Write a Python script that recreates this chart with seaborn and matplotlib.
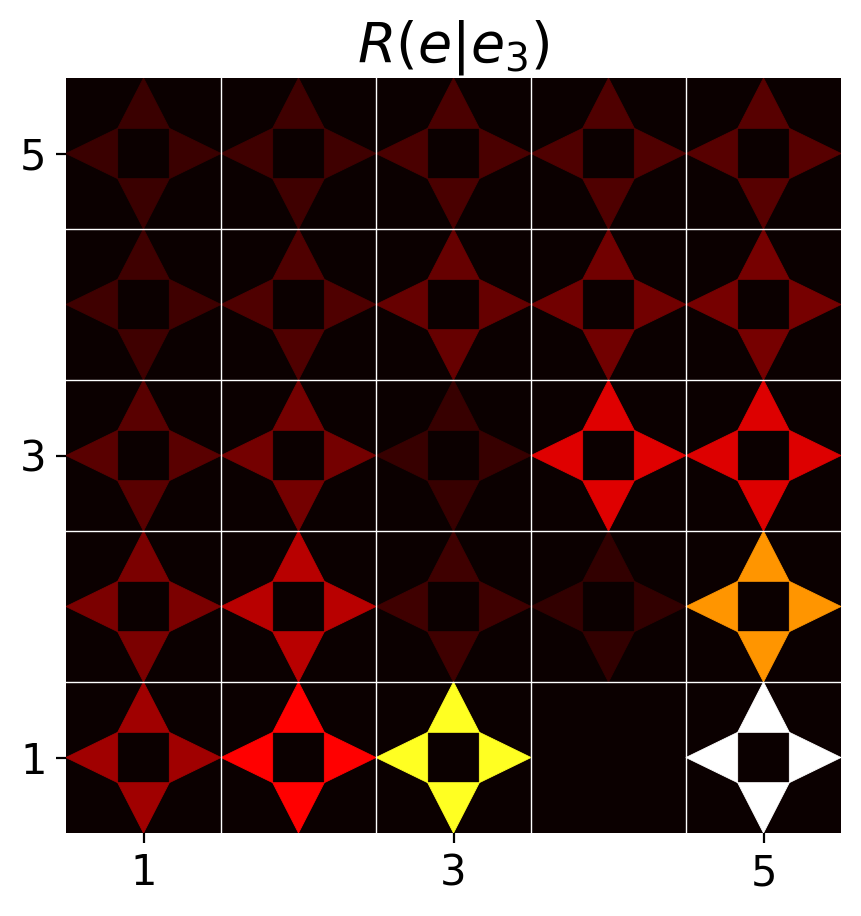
import numpy as np
import pandas as pd
import seaborn as sns
import matplotlib
matplotlib.use("Agg")
import matplotlib.pyplot as plt
from matplotlib.collections import PolyCollection

# grid coordinates (x = 1..5, y = 1..5)
x_labels = [1, 2, 3, 4, 5]
y_labels = [5, 4, 3, 2, 1]  # top to bottom

# value per cell (same for all four directions), rows listed top (y=5) to bottom (y=1)
row_y5 = [0.074, 0.080, 0.095, 0.104, 0.116]
row_y4 = [0.080, 0.104, 0.140, 0.154, 0.163]
row_y3 = [0.119, 0.157, 0.068, 0.319, 0.313]
row_y2 = [0.169, 0.259, 0.080, 0.062, 0.589]
row_y1 = [0.223, 0.365, 0.778, 0.000, 1.000]
rows = [row_y5, row_y4, row_y3, row_y2, row_y1]

tick_vals = [1, 3, 5]

fig = plt.figure(figsize=(8.61 / 2, 9.16 / 2), dpi=200)
ax = fig.add_axes([66 / 861, 83 / 916, 775 / 861, 755 / 916])

# background: zero-valued heatmap in the same colormap
bg = pd.DataFrame(np.zeros((5, 5)), index=y_labels, columns=x_labels)
sns.heatmap(bg, ax=ax, cmap="hot", vmin=0, vmax=1, cbar=False,
            xticklabels=False, yticklabels=False)

polys, vals = [], []
h = 1 / 6
for i, row in enumerate(rows):
    for j, v in enumerate(row):
        cx, cy = j + 0.5, i + 0.5
        tris = [
            [(cx - h, cy - h), (cx + h, cy - h), (cx, cy - 0.5)],  # up
            [(cx - h, cy + h), (cx + h, cy + h), (cx, cy + 0.5)],  # down
            [(cx - h, cy - h), (cx - h, cy + h), (cx - 0.5, cy)],  # left
            [(cx + h, cy - h), (cx + h, cy + h), (cx + 0.5, cy)],  # right
        ]
        for t in tris:
            polys.append(t)
            vals.append(v)

pc = PolyCollection(polys, array=np.array(vals), cmap="hot",
                    norm=matplotlib.colors.Normalize(0, 1),
                    edgecolors="face", linewidths=0.3)
ax.add_collection(pc)

for k in range(1, 5):
    ax.axvline(k, color="white", lw=0.5)
    ax.axhline(k, color="white", lw=0.5)

ax.set_xlim(0, 5)
ax.set_ylim(5, 0)
ax.set_xticks([x_labels.index(t) + 0.5 for t in tick_vals])
ax.set_xticklabels([str(t) for t in tick_vals], fontsize=15)
ax.set_yticks([y_labels.index(t) + 0.5 for t in tick_vals])
ax.set_yticklabels([str(t) for t in tick_vals], fontsize=15, rotation=0)
ax.tick_params(length=3.5, width=0.8)
for s in ax.spines.values():
    s.set_visible(False)
ax.set_xlabel("")
ax.set_ylabel("")
ax.set_title(r"$R(e|e_3)$", fontsize=20)

fig.savefig("out.png", dpi=200)
